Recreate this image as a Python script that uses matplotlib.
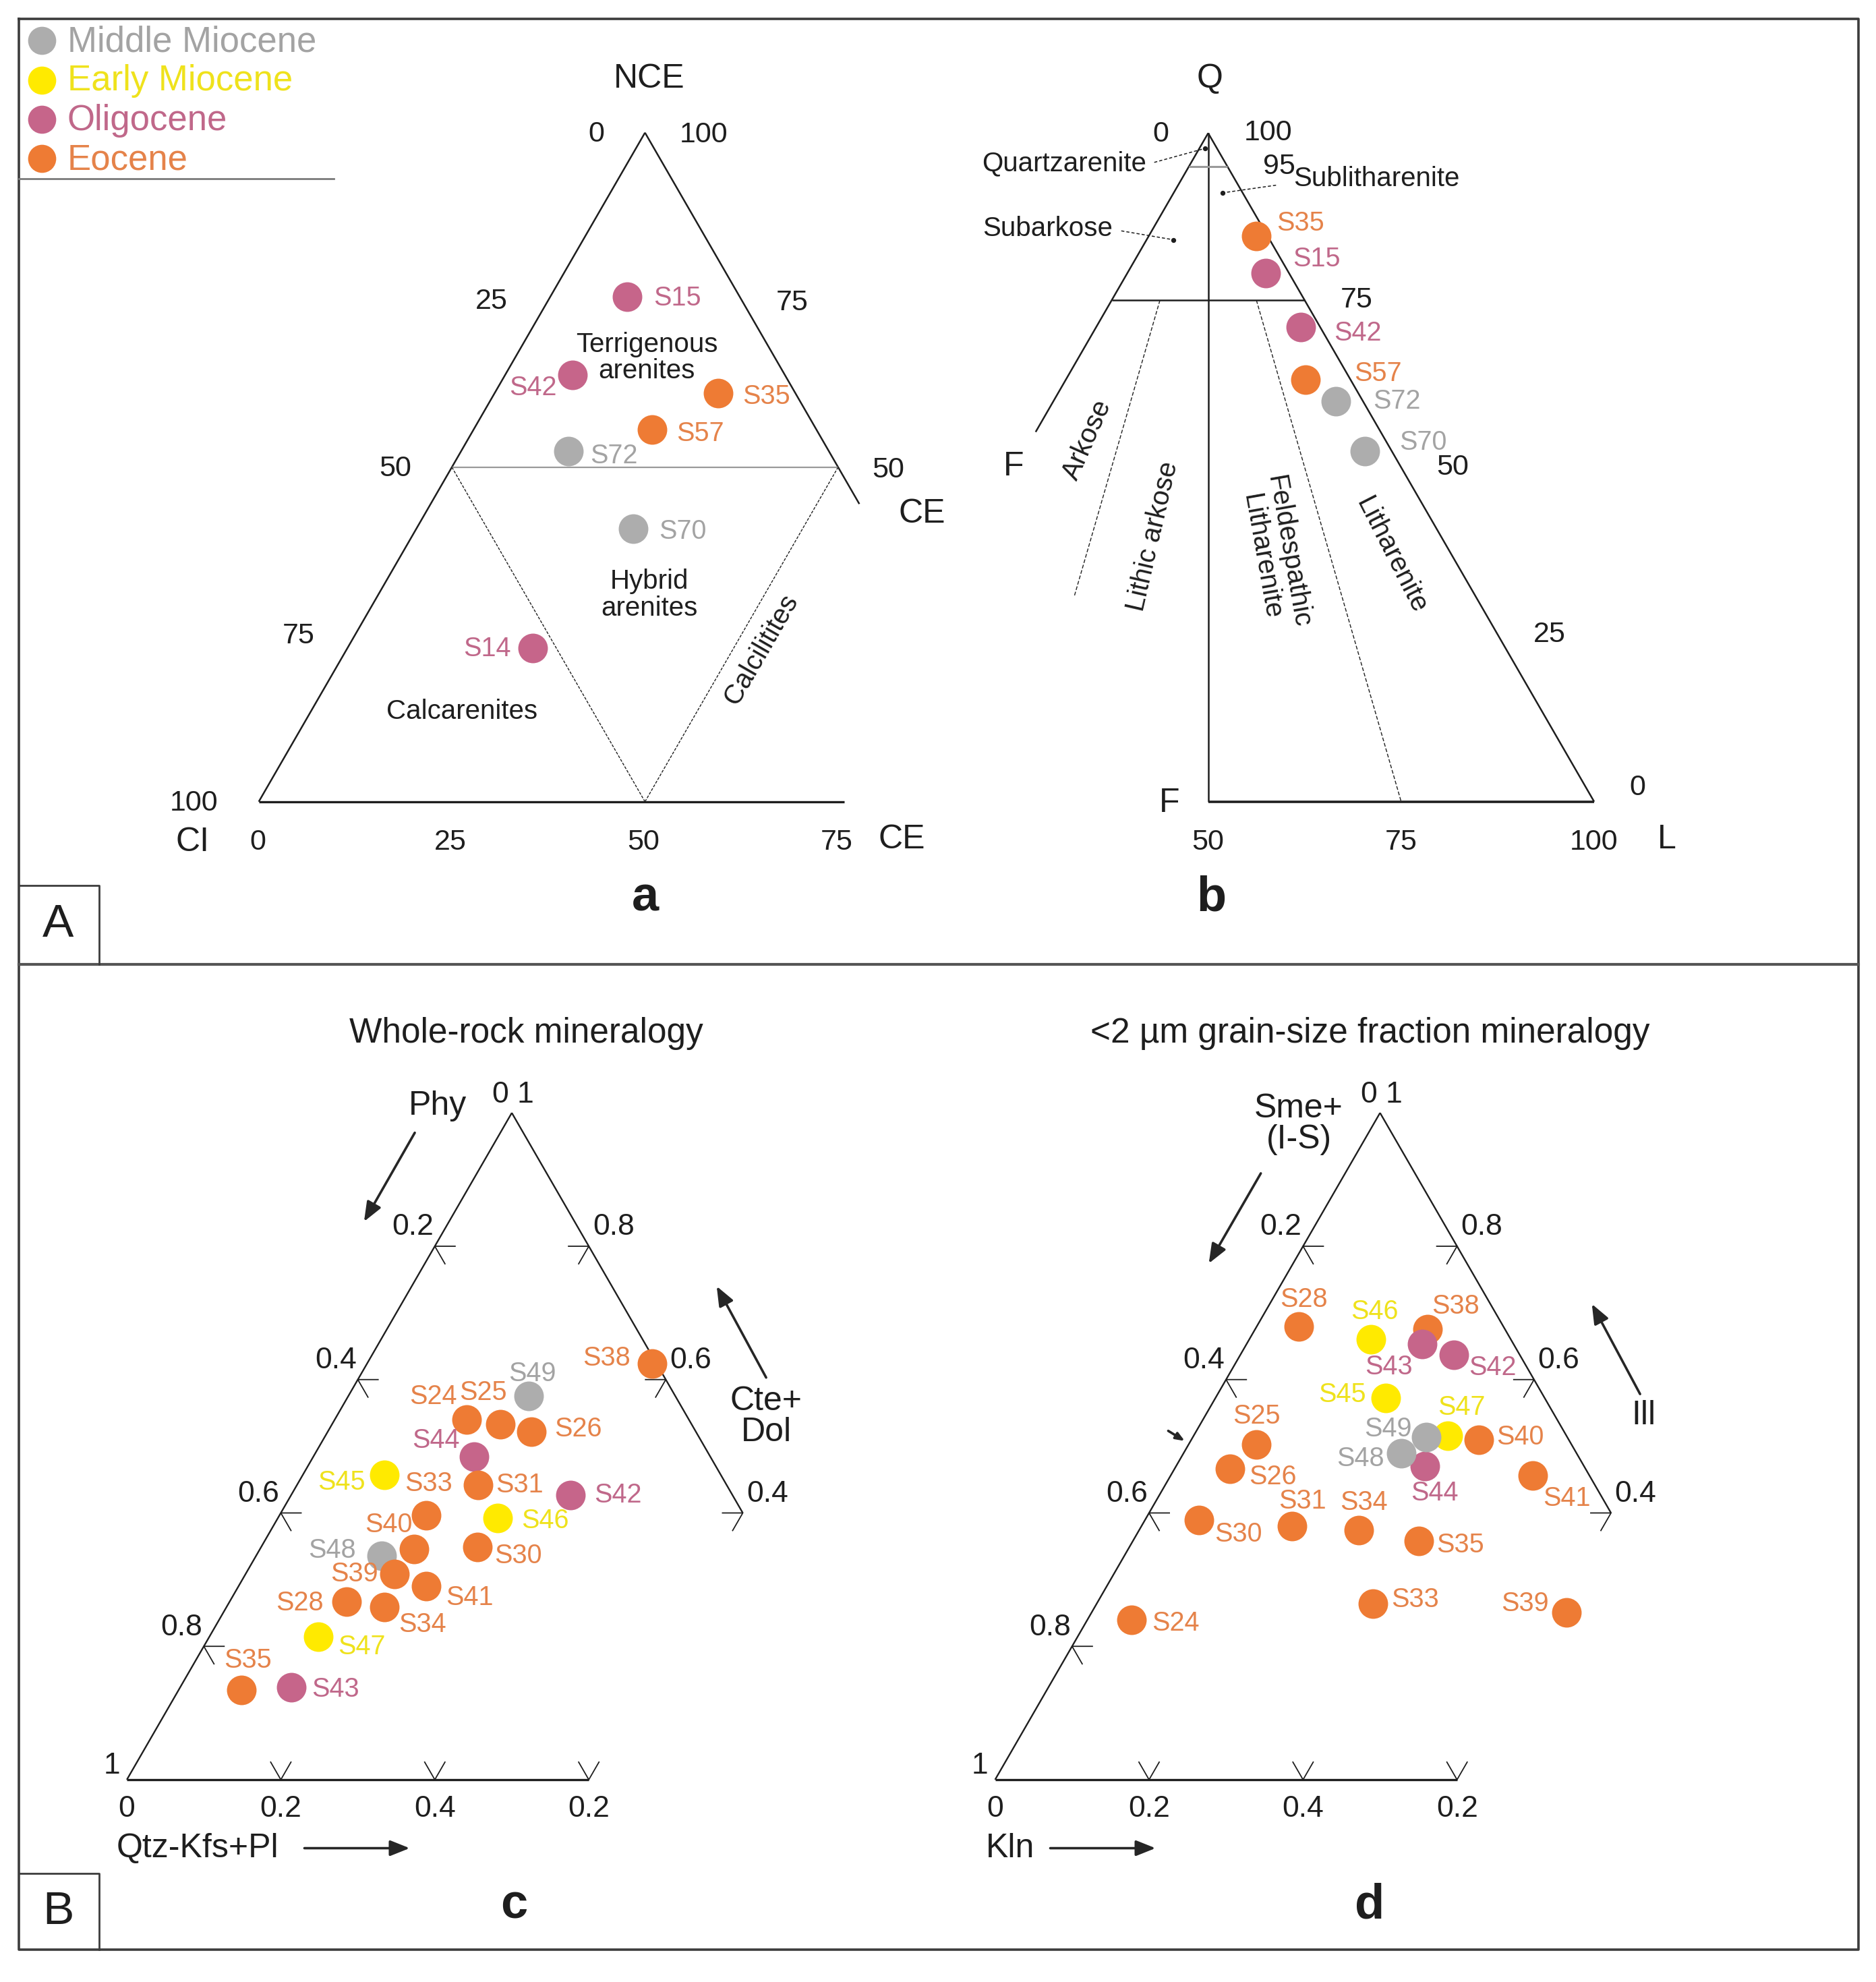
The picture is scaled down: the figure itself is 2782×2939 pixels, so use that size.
import numpy as np
import matplotlib.pyplot as plt

plt.rcParams['font.family'] = ['Liberation Sans', 'DejaVu Sans']

# ---- data -------------------------------------------------------------
periods = ["Middle Miocene", "Early Miocene", "Oligocene", "Eocene"]
period_colors = ["#adadad", "#ffea00", "#c6658a", "#ee7b34"]
label_colors = ["#a3a3a3", "#efe21c", "#c0688a", "#e5834a"]

mm_samples = ["S48", "S49", "S70", "S72"]
em_samples = ["S45", "S46", "S47"]
olig_samples = ["S14", "S15", "S42", "S43", "S44"]
# everything else is Eocene

# a) NCE - CE - CI (%)
a_samples = ["S15", "S42", "S35", "S57", "S72", "S70", "S14"]
a_nce = [75.5, 63.8, 61.1, 55.6, 52.4, 40.8, 23.0]
a_ce = [9.9, 8.7, 28.9, 23.1, 13.9, 28.1, 24.0]
a_ci = [14.6, 27.5, 10.0, 21.3, 33.7, 31.1, 53.0]

# b) Q - L - F (%)
b_samples = ["S35", "S15", "S42", "S57", "S72", "S70"]
b_q = [84.6, 79.1, 71.0, 63.1, 59.9, 52.4]
b_l = [13.9, 17.9, 26.5, 31.1, 36.6, 44.1]
b_f = [1.5, 3.0, 2.5, 5.8, 3.5, 3.5]

# c) whole rock: Cte+Dol - Qtz-Kfs+Pl - Phy
c_samples = ["S38", "S24", "S25", "S26", "S49", "S44", "S45", "S31", "S33", "S48",
             "S40", "S39", "S41", "S28", "S34", "S30", "S46", "S42", "S47", "S43", "S35"]
c_carb = [0.624, 0.540, 0.533, 0.522, 0.575, 0.484, 0.457, 0.442, 0.396, 0.336,
          0.346, 0.308, 0.290, 0.267, 0.259, 0.349, 0.392, 0.427, 0.214, 0.139, 0.135]
c_qtz = [0.370, 0.171, 0.219, 0.264, 0.234, 0.209, 0.106, 0.235, 0.191, 0.163,
         0.200, 0.194, 0.244, 0.152, 0.205, 0.281, 0.286, 0.363, 0.142, 0.144, 0.081]
c_phy = [0.006, 0.289, 0.248, 0.214, 0.191, 0.307, 0.437, 0.323, 0.413, 0.501,
         0.454, 0.498, 0.466, 0.581, 0.536, 0.370, 0.322, 0.210, 0.644, 0.717, 0.784]

# d) <2 um fraction: Ill - Kln - Sme+(I-S)
d_samples = ["S28", "S46", "S38", "S43", "S42", "S45", "S44", "S47", "S48", "S49",
             "S40", "S41", "S25", "S26", "S30", "S31", "S34", "S35", "S33", "S39", "S24"]
d_ill = [0.680, 0.660, 0.676, 0.653, 0.637, 0.572, 0.470, 0.516, 0.489, 0.514,
         0.510, 0.456, 0.503, 0.466, 0.389, 0.380, 0.374, 0.358, 0.264, 0.251, 0.240]
d_kln = [0.054, 0.158, 0.224, 0.228, 0.277, 0.221, 0.323, 0.330, 0.283, 0.303,
         0.373, 0.470, 0.088, 0.072, 0.070, 0.196, 0.285, 0.371, 0.359, 0.617, 0.057]
d_sme = [0.266, 0.182, 0.100, 0.119, 0.086, 0.207, 0.207, 0.154, 0.228, 0.183,
         0.117, 0.074, 0.409, 0.462, 0.541, 0.424, 0.341, 0.271, 0.377, 0.132, 0.703]

# label offsets (layout only)
a_off = {"S15": (40, 1), "S42": (-31, 10), "S35": (38, 3), "S57": (38, 3),
         "S72": (36, 4), "S70": (39, 2), "S14": (-36, 1)}
b_off = {"S35": (35, -10), "S15": (40, -11), "S42": (45, 5), "S57": (57, -5),
         "S72": (48, 0), "S70": (46, -7)}
c_off = {"S38": (-36, -4), "S49": (3, -18), "S24": (-26, -18), "S25": (-14, -25),
         "S26": (37, -2), "S44": (-30, -13), "S45": (-34, 6), "S31": (33, 0),
         "S33": (2, -25), "S40": (-20, -19), "S48": (-39, -4), "S39": (-32, 0),
         "S41": (34, 9), "S28": (-37, 1), "S34": (30, 14), "S30": (32, 7),
         "S46": (37, 2), "S42": (37, 0), "S47": (34, 8), "S43": (35, 2), "S35": (5, -23)}
d_off = {"S28": (4, -21), "S46": (3, -22), "S38": (22, -18), "S43": (-26, 18),
         "S42": (31, 10), "S45": (-34, -3), "S47": (11, -22), "S49": (-30, -6),
         "S48": (-32, 4), "S44": (8, 21), "S40": (33, -2), "S41": (27, 18),
         "S25": (0, -22), "S26": (34, 6), "S30": (31, 11), "S31": (8, -20),
         "S34": (4, -22), "S35": (33, 3), "S33": (33, -3), "S39": (-33, -7), "S24": (35, 3)}

# ---- canvas -----------------------------------------------------------
W, HH = 1479, 1562.5
fig = plt.figure(figsize=(27.82, 29.39), dpi=100)
ax = fig.add_axes([0, 0, 1, 1])
ax.set_xlim(0, W)
ax.set_ylim(HH, 0)
ax.axis('off')

SQ = np.sqrt(3) / 2
INK = "#1e1e1e"
MS = 1000

# triangles: bottom-left corner x, y and side length
tri_a = (204, 632, 609)
tri_b = (648.2, 632, 608.6)
tri_c = (100, 1403, 607)
tri_d = (784.5, 1403, 607)


def txy(tri, top, right, left):
    x0, y0, side = tri
    top, right, left = (np.asarray(v, dtype=float) for v in (top, right, left))
    tot = top + right + left
    t, r = top / tot, right / tot
    return x0 + side * (r + t / 2), y0 - side * SQ * t


def seg(tri, p, q, **kw):
    x1, y1 = txy(tri, *p)
    x2, y2 = txy(tri, *q)
    kw.setdefault('color', INK)
    kw.setdefault('lw', 1.8)
    ax.plot([x1, x2], [y1, y2], solid_capstyle='butt', **kw)


def period_of(s):
    if s in mm_samples:
        return 0
    if s in em_samples:
        return 1
    if s in olig_samples:
        return 2
    return 3


def plot_samples(tri, names, top, right, left, offsets, fs=28.5):
    xs, ys = txy(tri, top, right, left)
    for name, x, y in zip(names, xs, ys):
        k = period_of(name)
        ax.scatter(x, y, s=MS, color=period_colors[k], linewidths=0, zorder=4)
        dx, dy = offsets[name]
        ax.text(x + dx, y + dy, name, color=label_colors[k], fontsize=fs,
                ha='center', va='center', zorder=5)


def txt(x, y, s, fs=31, **kw):
    kw.setdefault('color', INK)
    kw.setdefault('ha', 'center')
    kw.setdefault('va', 'center')
    ax.text(x, y, s, fontsize=fs, **kw)


def arrow(tail, head, ms=32):
    ax.annotate('', xy=head, xytext=tail,
                arrowprops=dict(arrowstyle='-|>,head_length=0.55,head_width=0.22',
                                color="#262626", lw=2.6, mutation_scale=ms,
                                shrinkA=0, shrinkB=0))


# ---- frame and legend ---------------------------------------------------
fc = "#3c3c3c"
ax.plot([15, 1465, 1465, 15, 15], [15, 15, 1537, 1537, 15], color=fc, lw=2.6)
ax.plot([15, 1465], [760, 760], color="#555555", lw=3)
ax.plot([15, 78, 78], [698, 698, 760], color=fc, lw=2)
ax.plot([15, 78, 78], [1477, 1477, 1537], color=fc, lw=2)
txt(46, 729, "A", fs=50)
txt(46, 1507, "B", fs=50)

ax.plot([15, 263], [141, 141], color="#7a7a7a", lw=2)
for i, p in enumerate(periods):
    ly = 32 + i * 31
    ax.scatter(33, ly, s=MS * 0.9, color=period_colors[i], linewidths=0, zorder=4)
    ax.text(53, ly + 1, p, fontsize=38, color=label_colors[i], ha='left', va='center')

# ---- panel a ------------------------------------------------------------
seg(tri_a, (100, 0, 0), (0, 0, 100))
seg(tri_a, (100, 0, 0), (44.5, 55.5, 0))
seg(tri_a, (0, 0, 100), (0, 75.8, 24.2), lw=2.4)
seg(tri_a, (50, 0, 50), (50, 50, 0), color="#9a9a9a", lw=1.6)
seg(tri_a, (50, 0, 50), (0, 50, 50), lw=1.0, ls=(0, (3, 1.5)))
seg(tri_a, (0, 50, 50), (50, 50, 0), lw=1.0, ls=(0, (3, 1.5)))

for v, lab in zip([100, 75, 50, 25, 0], ["0", "25", "50", "75", "100"]):
    x, y = txy(tri_a, v, 0, 100 - v)
    txt(x - 32, y + 1, lab, ha='right')
for v, lab in zip([100, 75, 50], ["100", "75", "50"]):
    x, y = txy(tri_a, v, 100 - v, 0)
    txt(x + 27, y + 2, lab, ha='left')
for v, lab in zip([0, 25, 50, 75], ["0", "25", "50", "75"]):
    x, y = txy(tri_a, 0, v, 100 - v)
    txt(x - 1, y + 32, lab)
txt(152, 664, "CI", fs=36)
txt(711, 662, "CE", fs=36)
txt(727, 405, "CE", fs=36)
txt(512, 62, "NCE", fs=36)
txt(510, 282, "Terrigenous\narenites", fs=29, linespacing=1.05)
txt(512, 469, "Hybrid\narenites", fs=29, linespacing=1.05)
txt(364, 561, "Calcarenites", fs=29)
txt(600, 512, "Calcilitites", fs=29, rotation=60)
txt(509, 708, "a", fs=52, fontweight='bold')

plot_samples(tri_a, a_samples, a_nce, a_ce, a_ci, a_off)

# ---- panel b ------------------------------------------------------------
seg(tri_b, (100, 0, 0), (0, 100, 0))
seg(tri_b, (100, 0, 0), (55.3, 0, 44.7))
seg(tri_b, (0, 50, 50), (0, 100, 0), lw=2.6)
seg(tri_b, (100, 0, 0), (0, 50, 50))
seg(tri_b, (75, 25, 0), (75, 0, 25))
seg(tri_b, (95, 5, 0), (95, 0, 5), color="#9a9a9a", lw=2.2)
seg(tri_b, (75, 6.25, 18.75), (30.7, 17.3, 52.0), lw=1.0, ls=(0, (4, 2)))
seg(tri_b, (75, 18.75, 6.25), (0, 75, 25), lw=1.0, ls=(0, (4, 2)))

for v in [100, 95, 75, 50, 25, 0]:
    x, y = txy(tri_b, v, 100 - v, 0)
    txt(x + 28, y - (11 if v == 0 else 0), str(v), ha='left')
for v in [50, 75, 100]:
    x, y = txy(tri_b, 0, v, 100 - v)
    txt(x, y + 32, str(v))
txt(915, 106, "0")
txt(954, 62, "Q", fs=36)
txt(922, 633, "F", fs=36)
txt(799, 368, "F", fs=36)
txt(1314, 662, "L", fs=36)

txt(839, 129, "Quartzarenite", fs=29)
txt(1085, 141, "Sublitharenite", fs=29)
txt(826, 180, "Subarkose", fs=29)
for (x1, y1), (x2, y2) in [((910, 128), (950, 117)), ((1006, 146), (964, 152)),
                           ((884, 182), (925, 189))]:
    ax.plot([x1, x2], [y1, y2], color=INK, lw=1.1, ls=(0, (3, 2)))
    ax.scatter(x2, y2, s=18, color=INK, zorder=3)
txt(857, 347, "Arkose", fs=29, rotation=66)
txt(909, 423, "Lithic arkose", fs=29, rotation=77)
txt(1005, 437, "Feldespathic\nLitharenite", fs=29, rotation=-80, linespacing=1.05)
txt(1097, 438, "Litharenite", fs=29, rotation=-63)
txt(955, 708, "b", fs=52, fontweight='bold')

plot_samples(tri_b, b_samples, b_q, b_l, b_f, b_off)


# ---- panels c and d ---------------------------------------------------
def mineral_frame(tri, title, tx):
    L = 16
    seg(tri, (1, 0, 0), (0, 0, 1), lw=1.7)
    seg(tri, (1, 0, 0), (0.4, 0.6, 0), lw=1.7)
    seg(tri, (0, 0, 1), (0, 0.6, 0.4), lw=2.4)
    for f in [0.2, 0.4, 0.6, 0.8]:
        x, y = txy(tri, 1 - f, 0, f)
        ax.plot([x + L, x, x + L / 2], [y, y, y + SQ * L], color=INK, lw=1.3)
        txt(x - 1, y - 15, "%.1f" % f, fs=32, ha='right')
    for t in [0.8, 0.6, 0.4]:
        x, y = txy(tri, t, 1 - t, 0)
        ax.plot([x - L, x, x - L / 2], [y, y, y + SQ * L], color=INK, lw=1.3)
        txt(x + 3, y - 15, "%.1f" % t, fs=32, ha='left')
    for r, lab in zip([0.2, 0.4, 0.6], ["0.2", "0.4", "0.2"]):
        x, y = txy(tri, 0, r, 1 - r)
        ax.plot([x - L / 2, x, x + L / 2], [y - SQ * L, y, y - SQ * L], color=INK, lw=1.3)
        txt(x, y + 23, lab, fs=32)
    x, y = txy(tri, 0, 0, 1)
    txt(x, y + 23, "0", fs=32)
    txt(x - 12, y - 11, "1", fs=32)
    x, y = txy(tri, 1, 0, 0)
    txt(x + 1, y - 14, "0 1", fs=32)
    txt(tx, 815, title, fs=37)


mineral_frame(tri_c, "Whole-rock mineralogy", 415)
mineral_frame(tri_d, "<2 µm grain-size fraction mineralogy", 1080)

txt(345, 872, "Phy", fs=36)
arrow((327, 893), (287, 963))
txt(604, 1117, "Cte+\nDol", fs=36, linespacing=1.0)
arrow((604, 1086), (565, 1014))
txt(92, 1457, "Qtz-Kfs+Pl", fs=36, ha='left')
arrow((240, 1457), (323, 1457))
txt(405, 1502, "c", fs=52, fontweight='bold')

txt(1024, 886, "Sme+\n(I-S)", fs=36, linespacing=1.0)
arrow((994, 925), (953, 996))
txt(1296, 1116, "Ill", fs=36)
arrow((1293, 1099), (1255, 1028))
txt(777, 1457, "Kln", fs=36, ha='left')
arrow((828, 1457), (911, 1457))
arrow((921, 1128), (934, 1136), ms=14)
txt(1080, 1502, "d", fs=52, fontweight='bold')

plot_samples(tri_c, c_samples, c_carb, c_qtz, c_phy, c_off)
plot_samples(tri_d, d_samples, d_ill, d_kln, d_sme, d_off)

fig.savefig("out.png", dpi=100)
